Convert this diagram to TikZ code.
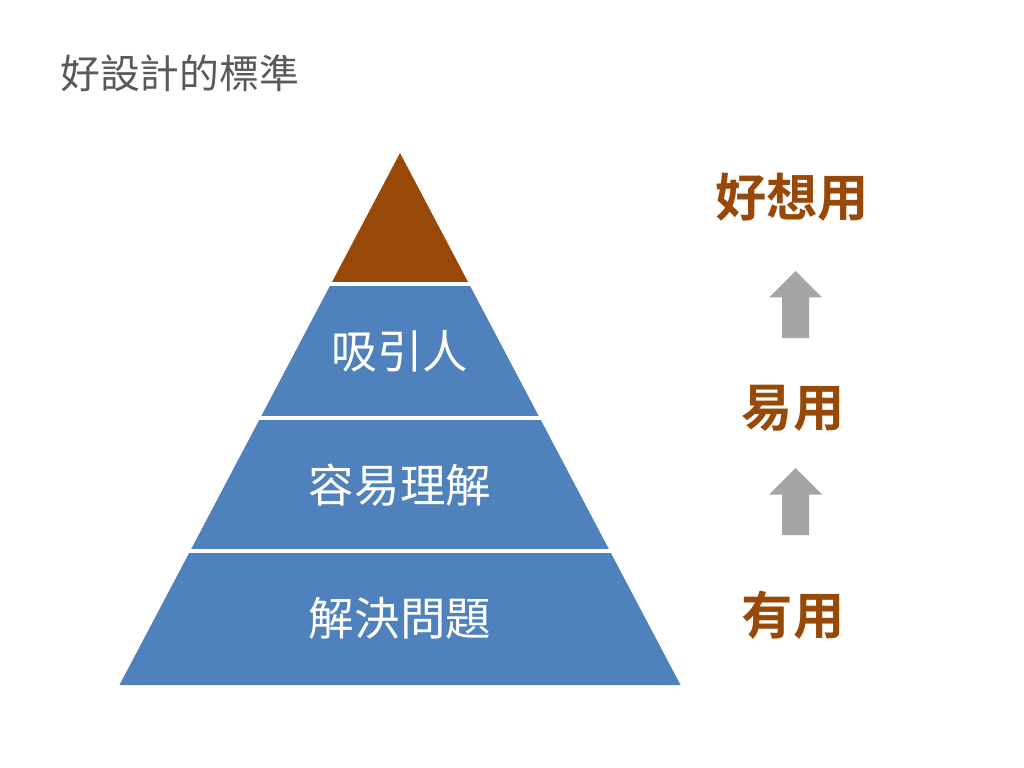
\documentclass[tikz,border=0pt]{standalone}
\usepackage{fontspec}
\newfontfamily\cjk{Noto Sans CJK TC}
\newfontfamily\cjkb{Noto Sans CJK TC Bold}
\definecolor{pyrblue}{HTML}{4F81BD}
\definecolor{pyrbrown}{HTML}{984807}
\definecolor{arrgray}{HTML}{A5A5A5}
\definecolor{titlegray}{HTML}{595959}
\tikzset{
  layertext/.style={text=white, inner sep=0pt, font=\cjk\fontsize{32}{36}\selectfont},
  goaltext/.style={text=pyrbrown, inner sep=0pt, font=\cjkb\fontsize{36}{40}\selectfont},
  blockarrow/.style={fill=arrgray, draw=none},
  sepline/.style={draw=white, line width=2.2pt}
}
\begin{document}
\begin{tikzpicture}[x=0.703125pt,y=-0.703125pt]
\useasboundingbox (0,0) rectangle (1024,768);
\fill[white] (0,0) rectangle (1024,768);
% title
\node[anchor=west, inner sep=0pt, text=titlegray, font=\cjk\fontsize{28}{32}\selectfont] (title) at (60,73) {好設計的標準};
% pyramid
\fill[pyrbrown] (400,153) -- (469.1,284) -- (330.9,284) -- cycle;
\fill[pyrblue] (330.9,284) -- (469.1,284) -- (680.5,685) -- (119.5,685) -- cycle;
\draw[sepline] (320,284) -- (480,284);
\draw[sepline] (250,418) -- (550,418);
\draw[sepline] (180,551) -- (620,551);
\node[layertext] (l1) at (400,351) {吸引人};
\node[layertext] (l2) at (400,485) {容易理解};
\node[layertext] (l3) at (400,618) {解決問題};
% goals
\node[goaltext] (g1) at (792,197) {好想用};
\node[goaltext] (g2) at (793,408) {易用};
\node[goaltext] (g3) at (793,615) {有用};
% arrows
\fill[blockarrow] (795.5,271) -- (822,297.5) -- (809,297.5) -- (809,338) -- (782,338) -- (782,297.5) -- (769,297.5) -- cycle;
\fill[blockarrow] (795.5,468) -- (822,494.5) -- (809,494.5) -- (809,535) -- (782,535) -- (782,494.5) -- (769,494.5) -- cycle;
\end{tikzpicture}
\end{document}
